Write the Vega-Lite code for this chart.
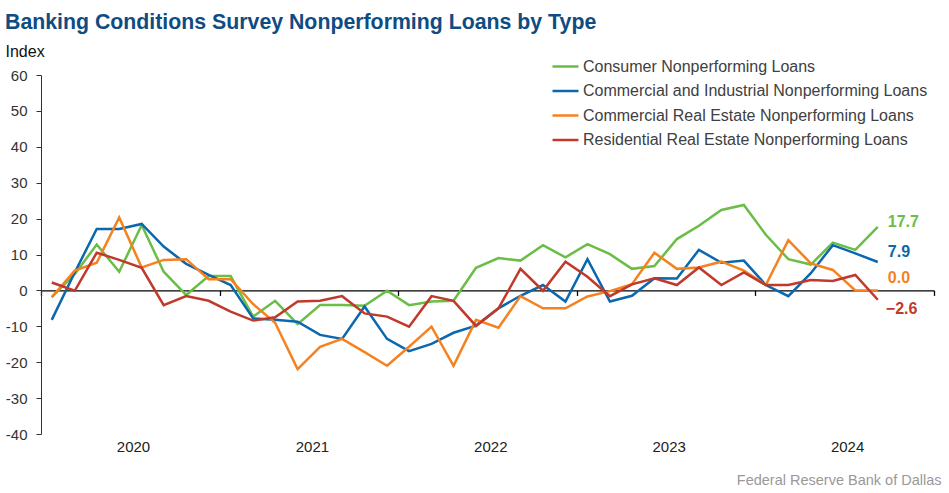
{
  "$schema": "https://vega.github.io/schema/vega-lite/v6.json",
  "width": 893,
  "height": 359,
  "autosize": {"type": "none"},
  "padding": {"left": 41, "top": 75, "right": 15, "bottom": 59},
  "background": "white",
  "config": {"font": "Liberation Sans", "view": {"stroke": null}},
  "title": {
    "text": "Banking Conditions Survey Nonperforming Loans by Type",
    "anchor": "start",
    "frame": "group",
    "dx": -36,
    "dy": -6,
    "fontSize": 21.3,
    "fontWeight": "bold",
    "color": "#0E4C83",
    "font": "Liberation Sans"
  },
  "data": {
    "format": {"parse": {"date": "utc:'%Y-%m-%d'"}},
    "values": [
      {"date": "2020-01-23", "Consumer": -1.9, "CI": -8.2, "CRE": -1.9, "RRE": 2.2},
      {"date": "2020-03-10", "Consumer": 4.5, "CI": 5.0, "CRE": 5.5, "RRE": -0.1},
      {"date": "2020-04-24", "Consumer": 12.8, "CI": 17.1, "CRE": 7.7, "RRE": 10.5},
      {"date": "2020-06-09", "Consumer": 5.2, "CI": 17.1, "CRE": 20.3, "RRE": 8.5},
      {"date": "2020-07-25", "Consumer": 18.2, "CI": 18.5, "CRE": 6.4, "RRE": 6.3},
      {"date": "2020-09-08", "Consumer": 5.2, "CI": 12.2, "CRE": 8.5, "RRE": -4.1},
      {"date": "2020-10-24", "Consumer": -1.3, "CI": 7.4, "CRE": 8.7, "RRE": -1.6},
      {"date": "2020-12-09", "Consumer": 4.0, "CI": 4.3, "CRE": 3.1, "RRE": -2.9},
      {"date": "2021-01-23", "Consumer": 4.0, "CI": 1.5, "CRE": 3.1, "RRE": -5.9},
      {"date": "2021-03-10", "Consumer": -7.3, "CI": -7.8, "CRE": -3.8, "RRE": -8.4},
      {"date": "2021-04-24", "Consumer": -2.9, "CI": -8.2, "CRE": -9.0, "RRE": -7.5},
      {"date": "2021-06-09", "Consumer": -9.4, "CI": -8.7, "CRE": -21.9, "RRE": -3.1},
      {"date": "2021-07-25", "Consumer": -4.1, "CI": -12.4, "CRE": -15.7, "RRE": -2.9},
      {"date": "2021-09-08", "Consumer": -4.1, "CI": -13.5, "CRE": -13.5, "RRE": -1.6},
      {"date": "2021-10-24", "Consumer": -4.3, "CI": -4.5, "CRE": -17.2, "RRE": -6.4},
      {"date": "2021-12-09", "Consumer": -0.1, "CI": -13.5, "CRE": -21.0, "RRE": -7.3},
      {"date": "2022-01-23", "Consumer": -4.1, "CI": -16.9, "CRE": -15.7, "RRE": -10.1},
      {"date": "2022-03-10", "Consumer": -3.1, "CI": -14.9, "CRE": -10.1, "RRE": -1.6},
      {"date": "2022-04-24", "Consumer": -2.9, "CI": -11.8, "CRE": -21.0, "RRE": -2.9},
      {"date": "2022-06-09", "Consumer": 6.3, "CI": -9.8, "CRE": -8.2, "RRE": -9.9},
      {"date": "2022-07-25", "Consumer": 9.0, "CI": -5.0, "CRE": -10.4, "RRE": -5.0},
      {"date": "2022-09-08", "Consumer": 8.3, "CI": -1.5, "CRE": -1.6, "RRE": 6.0},
      {"date": "2022-10-24", "Consumer": 12.6, "CI": 1.5, "CRE": -5.0, "RRE": -0.1},
      {"date": "2022-12-09", "Consumer": 9.2, "CI": -3.1, "CRE": -5.0, "RRE": 8.0},
      {"date": "2023-01-23", "Consumer": 12.9, "CI": 8.7, "CRE": -1.7, "RRE": 3.8},
      {"date": "2023-03-10", "Consumer": 10.1, "CI": -3.1, "CRE": -0.2, "RRE": -1.6},
      {"date": "2023-04-24", "Consumer": 6.0, "CI": -1.5, "CRE": 1.7, "RRE": 1.7},
      {"date": "2023-06-09", "Consumer": 6.8, "CI": 3.4, "CRE": 10.5, "RRE": 3.4},
      {"date": "2023-07-25", "Consumer": 14.3, "CI": 3.3, "CRE": 6.0, "RRE": 1.5},
      {"date": "2023-09-08", "Consumer": 18.0, "CI": 11.3, "CRE": 6.4, "RRE": 6.4},
      {"date": "2023-10-24", "Consumer": 22.4, "CI": 7.7, "CRE": 8.0, "RRE": 1.5},
      {"date": "2023-12-09", "Consumer": 23.8, "CI": 8.3, "CRE": 5.5, "RRE": 5.0},
      {"date": "2024-01-23", "Consumer": 15.5, "CI": 1.5, "CRE": 1.5, "RRE": 1.5},
      {"date": "2024-03-09", "Consumer": 8.7, "CI": -1.6, "CRE": 14.0, "RRE": 1.5},
      {"date": "2024-04-24", "Consumer": 7.2, "CI": 4.8, "CRE": 7.5, "RRE": 2.9},
      {"date": "2024-06-08", "Consumer": 13.3, "CI": 12.6, "CRE": 5.7, "RRE": 2.6},
      {"date": "2024-07-24", "Consumer": 11.3, "CI": 10.3, "CRE": 0.0, "RRE": 4.3},
      {"date": "2024-09-08", "Consumer": 17.7, "CI": 7.9, "CRE": 0.0, "RRE": -2.6}
    ]
  },
  "resolve": {"axis": {"x": "independent", "y": "independent"}},
  "layer": [
    {
      "transform": [{"fold": ["Consumer", "CI", "CRE", "RRE"], "as": ["series", "value"]}],
      "mark": {"type": "line", "strokeWidth": 2.5},
      "encoding": {
        "x": {
          "field": "date",
          "type": "temporal",
          "scale": {
            "type": "utc",
            "domain": [
              {"year": 2020, "month": 1, "date": 1, "utc": true},
              {"year": 2025, "month": 1, "date": 1, "utc": true}
            ]
          },
          "axis": {
            "orient": "bottom",
            "offset": -143.6,
            "values": [
              {"year": 2020, "month": 1, "date": 1, "utc": true},
              {"year": 2021, "month": 1, "date": 1, "utc": true},
              {"year": 2022, "month": 1, "date": 1, "utc": true},
              {"year": 2023, "month": 1, "date": 1, "utc": true},
              {"year": 2024, "month": 1, "date": 1, "utc": true},
              {"year": 2025, "month": 1, "date": 1, "utc": true}
            ],
            "labels": false,
            "domain": true,
            "domainColor": "#000000",
            "domainWidth": 1.3,
            "ticks": true,
            "tickColor": "#000000",
            "tickWidth": 1.3,
            "tickSize": 5,
            "grid": false,
            "title": null
          }
        },
        "y": {
          "field": "value",
          "type": "quantitative",
          "scale": {"domain": [-40, 60], "nice": false, "zero": false},
          "axis": {
            "orient": "left",
            "values": [-40, -30, -20, -10, 0, 10, 20, 30, 40, 50, 60],
            "labelExpr": "replace(datum.label, '\u2212', '-')",
            "title": "Index",
            "titleAngle": 0,
            "titleX": -36,
            "titleY": -19,
            "titleAlign": "left",
            "titleBaseline": "alphabetic",
            "titleFontSize": 16,
            "titleFontWeight": "normal",
            "titleColor": "#111111",
            "labelFontSize": 15,
            "labelColor": "#333333",
            "labelPadding": 9,
            "tickSize": 5,
            "tickColor": "#333333",
            "domainColor": "#333333",
            "grid": false
          }
        },
        "color": {
          "field": "series",
          "type": "nominal",
          "scale": {
            "domain": ["Consumer", "CI", "CRE", "RRE"],
            "range": ["#6ABD45", "#0B67AE", "#F6821F", "#C0392B"]
          },
          "legend": {
            "orient": "none",
            "legendX": 513,
            "legendY": -20,
            "title": null,
            "padding": 0,
            "symbolType": "M-1.3,0H1.3",
            "symbolSize": 400,
            "symbolStrokeWidth": 2.5,
            "labelFontSize": 16,
            "labelColor": "#404040",
            "labelOffset": 6,
            "labelLimit": 500,
            "rowPadding": 4.5,
            "labelExpr": "datum.label == 'Consumer' ? 'Consumer Nonperforming Loans' : datum.label == 'CI' ? 'Commercial and Industrial Nonperforming Loans' : datum.label == 'CRE' ? 'Commercial Real Estate Nonperforming Loans' : 'Residential Real Estate Nonperforming Loans'"
          }
        }
      }
    },
    {
      "transform": [{"filter": "utcyear(datum.date) == 2024 && utcmonth(datum.date) == 8"}],
      "mark": {"type": "text", "align": "left", "baseline": "middle", "dx": 10, "dy": -5, "fontSize": 16, "fontWeight": "bold", "color": "#6ABD45"},
      "encoding": {
        "x": {
          "field": "date",
          "type": "temporal",
          "axis": {
            "orient": "bottom",
            "values": [
              {"year": 2020, "month": 1, "date": 1, "utc": true},
              {"year": 2021, "month": 1, "date": 1, "utc": true},
              {"year": 2022, "month": 1, "date": 1, "utc": true},
              {"year": 2023, "month": 1, "date": 1, "utc": true},
              {"year": 2024, "month": 1, "date": 1, "utc": true}
            ],
            "format": "%Y",
            "labelOffset": 92,
            "labelFlush": false,
            "labelOverlap": false,
            "labelFontSize": 15,
            "labelColor": "#222222",
            "labelPadding": 5,
            "domain": false,
            "ticks": false,
            "grid": false,
            "title": "Federal Reserve Bank of Dallas",
            "titleX": 900,
            "titleY": 46,
            "titleAlign": "right",
            "titleAnchor": null,
            "titleBaseline": "middle",
            "titleFontSize": 14.5,
            "titleFontWeight": "normal",
            "titleColor": "#999999"
          }
        },
        "y": {"field": "Consumer", "type": "quantitative", "axis": null},
        "text": {"field": "Consumer", "type": "quantitative", "format": ".1f"}
      }
    },
    {
      "transform": [{"filter": "utcyear(datum.date) == 2024 && utcmonth(datum.date) == 8"}],
      "mark": {"type": "text", "align": "left", "baseline": "middle", "dx": 10, "dy": -10, "fontSize": 16, "fontWeight": "bold", "color": "#0B67AE"},
      "encoding": {
        "x": {"field": "date", "type": "temporal", "axis": null},
        "y": {"field": "CI", "type": "quantitative", "axis": null},
        "text": {"field": "CI", "type": "quantitative", "format": ".1f"}
      }
    },
    {
      "transform": [{"filter": "utcyear(datum.date) == 2024 && utcmonth(datum.date) == 8"}],
      "mark": {"type": "text", "align": "left", "baseline": "middle", "dx": 10, "dy": -12, "fontSize": 16, "fontWeight": "bold", "color": "#F6821F"},
      "encoding": {
        "x": {"field": "date", "type": "temporal", "axis": null},
        "y": {"field": "CRE", "type": "quantitative", "axis": null},
        "text": {"field": "CRE", "type": "quantitative", "format": ".1f"}
      }
    },
    {
      "transform": [{"filter": "utcyear(datum.date) == 2024 && utcmonth(datum.date) == 8"}],
      "mark": {"type": "text", "align": "left", "baseline": "middle", "dx": 8, "dy": 9, "fontSize": 16, "fontWeight": "bold", "color": "#C0392B"},
      "encoding": {
        "x": {"field": "date", "type": "temporal", "axis": null},
        "y": {"field": "RRE", "type": "quantitative", "axis": null},
        "text": {"field": "RRE", "type": "quantitative", "format": ".1f"}
      }
    }
  ]
}
